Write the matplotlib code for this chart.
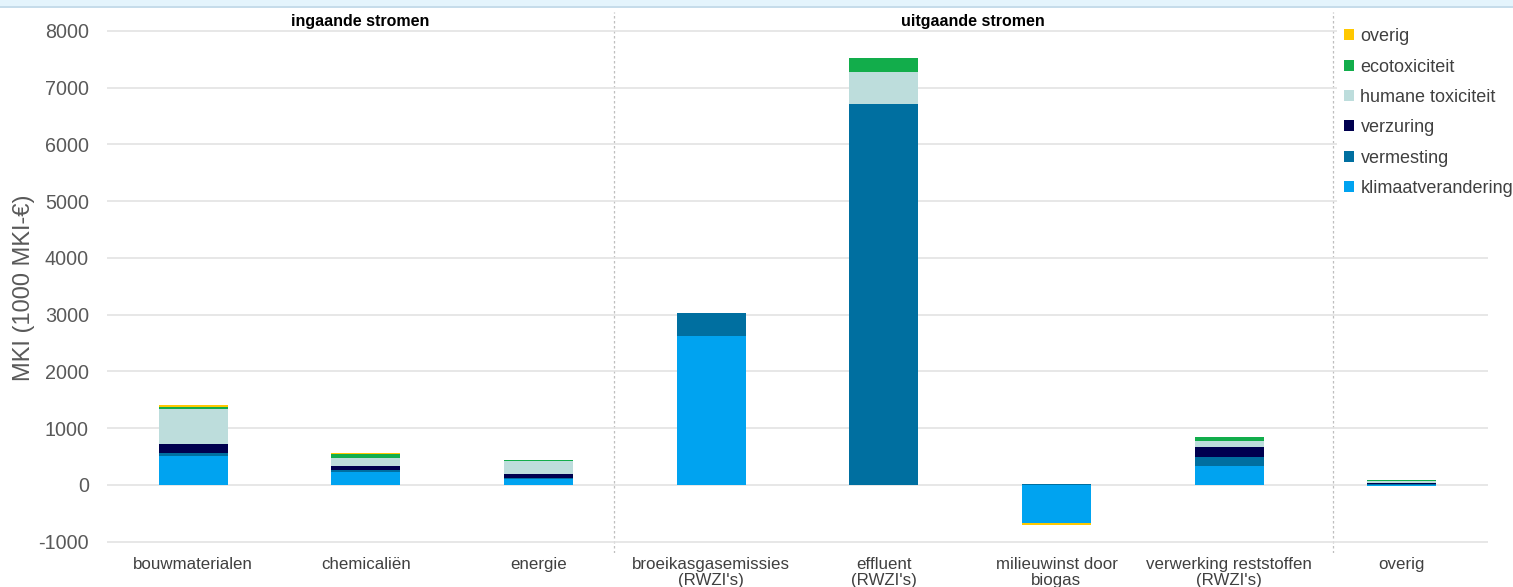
import numpy as np
import matplotlib
matplotlib.use("Agg")
import matplotlib.pyplot as plt
from matplotlib.patches import Patch, Rectangle

# ====================== DATA (1000 MKI-euro) ======================
categories = ["bouwmaterialen", "chemicaliën", "energie",
              "broeikasgasemissies\n(RWZI's)", "effluent\n(RWZI's)",
              "milieuwinst door\nbiogas", "verwerking reststoffen\n(RWZI's)",
              "overig"]

klimaatverandering = [510, 230, 100, 2625, 0, -670, 325, -25]
vermesting = [50, 35, 18, 400, 6705, 15, 165, 20]
verzuring = [165, 70, 82, 0, 0, 5, 170, 15]
humane_toxiciteit = [610, 147, 212, 0, 570, 0, 117, 40]
ecotoxiciteit = [40, 70, 29, 0, 245, 0, 58, 10]
overig = [25, 5, 0, 0, 0, -30, 5, 0]

series_names = ["klimaatverandering", "vermesting", "verzuring",
                "humane toxiciteit", "ecotoxiciteit", "overig"]
series_values = [klimaatverandering, vermesting, verzuring,
                 humane_toxiciteit, ecotoxiciteit, overig]
colors = ["#00A3F0", "#006FA0", "#00004F", "#BDDDDC", "#12AD4B", "#FFC800"]

section_titles = ["ingaande stromen", "uitgaande stromen"]
section_edges = [-0.5, 2.435, 6.6]
yticks = list(range(-1000, 8001, 1000))

# ====================== PLOT ======================
plt.rcParams['font.family'] = ['Liberation Sans', 'DejaVu Sans']

fig = plt.figure(figsize=(15.13, 5.87), dpi=100)
ax = fig.add_axes([107 / 1513, 34 / 587, 1381 / 1513, 541 / 587])

# light strip at the very top of the screenshot
fig.patches.append(Rectangle((0, 1 - 6 / 587), 1, 6 / 587, transform=fig.transFigure,
                             facecolor="#E4F4FC", edgecolor="none", zorder=0))
fig.add_artist(plt.Line2D([0, 1], [1 - 6.5 / 587] * 2, transform=fig.transFigure,
                          color="#BBD6E6", lw=1.2))

x = np.arange(len(categories))
pos_base = np.zeros(len(categories))
neg_base = np.zeros(len(categories))
for name, vals, col in zip(series_names, series_values, colors):
    vals = np.array(vals, dtype=float)
    pos = np.where(vals > 0, vals, 0)
    neg = np.where(vals < 0, vals, 0)
    ax.bar(x, pos, 0.4, bottom=pos_base, color=col, zorder=3, label=name)
    ax.bar(x, neg, 0.4, bottom=neg_base, color=col, zorder=3)
    pos_base += pos
    neg_base += neg

ax.set_xlim(-0.5, 7.5)
ax.set_ylim(-1200, 8330)
ax.set_yticks(yticks)
ax.set_yticklabels([str(t) for t in yticks], fontsize=14.2, color="#595959")
ax.set_xticks(x)
ax.set_xticklabels(categories, fontsize=12.2, color="#404040", linespacing=1.1)
ax.tick_params(axis='both', length=0)
ax.tick_params(axis='y', pad=13)
ax.tick_params(axis='x', pad=3)
ax.grid(axis='y', color="#E3E3E3", lw=1.2, zorder=0)
for s in ax.spines.values():
    s.set_visible(False)

ax.set_ylabel("MKI (1000 MKI-€)", fontsize=17, color="#595959")
ax.yaxis.set_label_coords(-0.052, 0.49)

for xs in section_edges[1:]:
    ax.axvline(xs, color="#BFBFBF", lw=0.9, ls=(0, (2, 2)), zorder=1)

mids = [(section_edges[0] + section_edges[1]) / 2, (section_edges[1] + section_edges[2]) / 2]
for title, mx in zip(section_titles, mids):
    ax.text(mx, 8165, title, ha='center', va='center', fontsize=11.5,
            fontweight='bold', color="black", zorder=4)

handles = [Patch(facecolor=c, edgecolor='none') for c in colors][::-1]
labels = series_names[::-1]
leg = fig.legend(handles, labels, loc='upper left',
                 bbox_to_anchor=(1337 / 1513, 1 - 21 / 587),
                 fontsize=13, frameon=True, facecolor='white', edgecolor='none',
                 framealpha=1, borderaxespad=0, borderpad=0.4,
                 handlelength=0.55, handleheight=0.55, handletextpad=0.35,
                 labelspacing=0.74, labelcolor="#404040")

fig.savefig("out.png", dpi=100, facecolor="white")
